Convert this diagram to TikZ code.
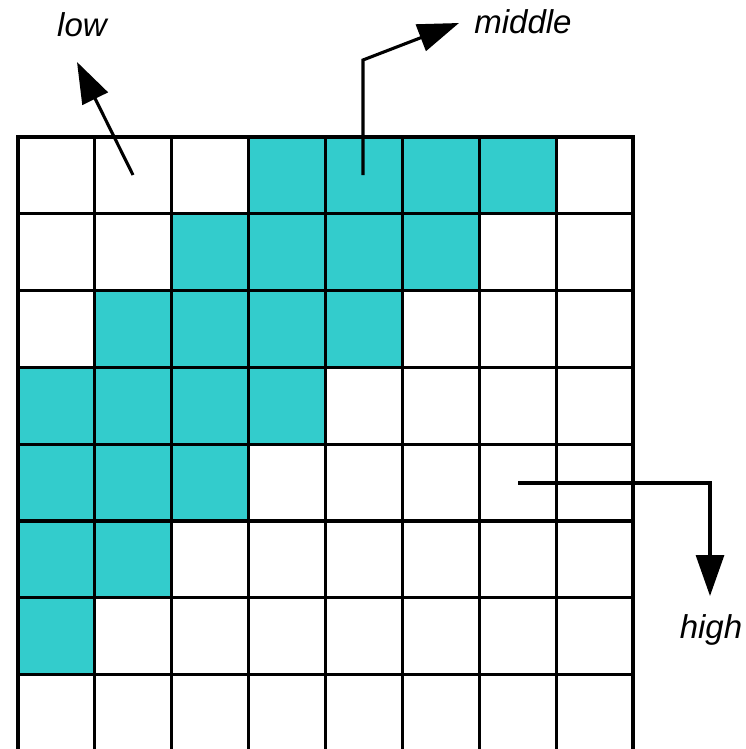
\documentclass[tikz,border=0pt]{standalone}
\usepackage{fontspec}
\setmainfont{Liberation Sans}
\usetikzlibrary{arrows.meta}
\definecolor{cellfill}{HTML}{33CCCC}
\begin{document}
\begin{tikzpicture}[x=1pt,y=-1pt,
  gridline/.style={line width=3.1pt,black,line cap=rect},
  lbl/.style={font=\fontsize{33}{39}\selectfont\itshape,inner sep=0pt},
  arr/.style={line width=3.1pt,-{Triangle[length=41pt,width=28pt]}}]
\useasboundingbox (0,0) rectangle (746,749);
\clip (0,0) rectangle (746,749);
\fill[white] (0,0) rectangle (746,749);
\foreach \r/\c in {0/3,0/4,0/5,0/6,1/2,1/3,1/4,1/5,2/1,2/2,2/3,2/4,3/0,3/1,3/2,3/3,4/0,4/1,4/2,5/0,5/1,6/0}
  \fill[cellfill] (18+\c*76.875,137+\r*76.8) rectangle +(76.875,76.8);
\foreach \i in {0,...,8}
  \draw[gridline] (18+\i*76.875,137) -- (18+\i*76.875,760);
\foreach \j in {0,...,7}
  \draw[gridline] (18,137+\j*76.8) -- (633,137+\j*76.8);
\node[lbl] (low) at (82,25) {low};
\node[lbl] (middle) at (523,22) {middle};
\node[lbl] (high) at (711,630) {high};
\coordinate (lowstart) at (133,175);
\coordinate (lowtip) at (77,62);
\coordinate (midstart) at (363,175);
\coordinate (midbend) at (363,60);
\coordinate (midtip) at (459,23);
\coordinate (highstart) at (518,483);
\coordinate (highbend) at (710,483);
\coordinate (hightip) at (710,596);
\draw[arr] (lowstart) -- (lowtip);
\draw[arr,line join=miter] (midstart) -- (midbend) -- (midtip);
\draw[arr,line join=miter] (highstart) -- (highbend) -- (hightip);
\end{tikzpicture}
\end{document}
